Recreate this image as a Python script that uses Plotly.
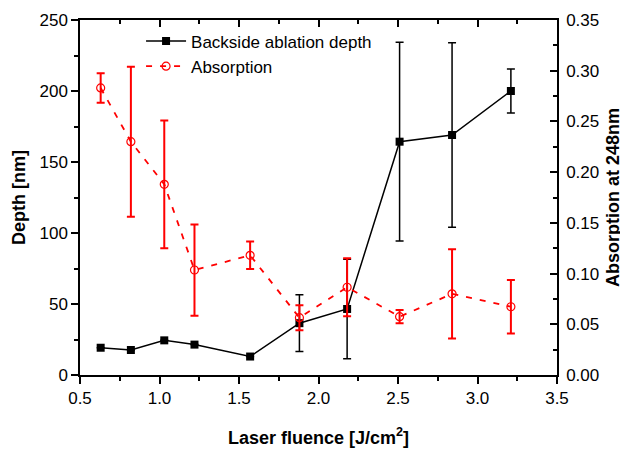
import plotly.graph_objects as go

fluence = [0.63, 0.82, 1.03, 1.22, 1.57, 1.88, 2.18, 2.51, 2.84, 3.21]
depth = [19.2, 17.6, 24.4, 21.4, 13.0, 36.5, 46.5, 164.3, 169.0, 200.0]
depth_err = [0, 0, 0, 0, 0, 20.0, 35.0, 70.0, 65.0, 15.5]
absorption = [0.283, 0.230, 0.188, 0.1035, 0.118, 0.0565, 0.0865, 0.0575, 0.080, 0.0673]
absorption_err = [0.0145, 0.074, 0.063, 0.045, 0.0136, 0.0123, 0.0285, 0.0065, 0.044, 0.0263]

font = "Liberation Sans, Arial, sans-serif"

fig = go.Figure()
fig.add_trace(go.Scatter(
    x=fluence, y=depth, name="Backside ablation depth",
    mode="lines+markers",
    line=dict(color="black", width=1.5),
    marker=dict(symbol="square", size=8, color="black"),
    error_y=dict(type="data", array=depth_err, color="black", thickness=1.5, width=4),
    xaxis="x", yaxis="y",
))
fig.add_trace(go.Scatter(
    x=fluence, y=absorption, name="Absorption",
    mode="lines+markers",
    line=dict(color="red", width=1.8, dash="6px,8px"),
    marker=dict(symbol="circle-open", size=8, color="red", line=dict(width=1.2)),
    error_y=dict(type="data", array=absorption_err, color="red", thickness=2, width=4),
    xaxis="x", yaxis="y2",
))
fig.add_trace(go.Scatter(x=fluence, y=depth, mode="none", showlegend=False,
                         hoverinfo="skip", xaxis="x3", yaxis="y"))

tickfont = dict(family=font, size=17, color="black")
titlefont = dict(family=font, size=18, color="black")

def minor(d, where):
    return dict(ticks=where, ticklen=4, dtick=d, tickcolor="black", tickwidth=1.5)

common = dict(showline=True, linecolor="black", linewidth=1.5, showgrid=False,
              zeroline=False, ticklen=7, tickwidth=1.5, tickcolor="black",
              tickfont=tickfont, automargin=False)

fig.update_layout(
    width=620, height=444,
    margin=dict(l=72, r=71, t=12, b=77),
    paper_bgcolor="white", plot_bgcolor="white",
    font=dict(family=font, color="black"),
    showlegend=True,
    legend=dict(x=0.128, y=0.99, xanchor="left", yanchor="top",
                bgcolor="rgba(0,0,0,0)", font=dict(family=font, size=17, color="black"),
                tracegroupgap=0, itemwidth=40),
    xaxis=dict(**common, ticks="outside", range=[0.5, 3.5], dtick=0.5, tick0=0.5,
               tickformat=".1f", minor=minor(0.25, "outside"), mirror=True,
               title=dict(text="<b>Laser fluence [J/cm<sup>2</sup>]</b>",
                          font=titlefont, standoff=24)),
    xaxis3=dict(overlaying="x", side="top", anchor="y", range=[0.5, 3.5], dtick=0.5,
                tick0=0.5, showticklabels=False, showgrid=False, zeroline=False,
                showline=False, ticks="inside", ticklen=7, tickwidth=1.5,
                tickcolor="black", minor=minor(0.25, "inside"), automargin=False),
    yaxis=dict(**common, ticks="outside", range=[0, 250], dtick=50,
               minor=minor(25, "outside"),
               title=dict(text="<b>Depth [nm]</b>", font=titlefont, standoff=9)),
    yaxis2=dict(**common, ticks="inside", range=[0, 0.35], dtick=0.05, tickformat=".2f",
                overlaying="y", side="right", anchor="x", ticklabelstandoff=4,
                minor=minor(0.025, "inside"),
                title=dict(text="<b>Absorption at 248nm</b>", font=titlefont, standoff=8)),
)

fig.write_html("out.html")
